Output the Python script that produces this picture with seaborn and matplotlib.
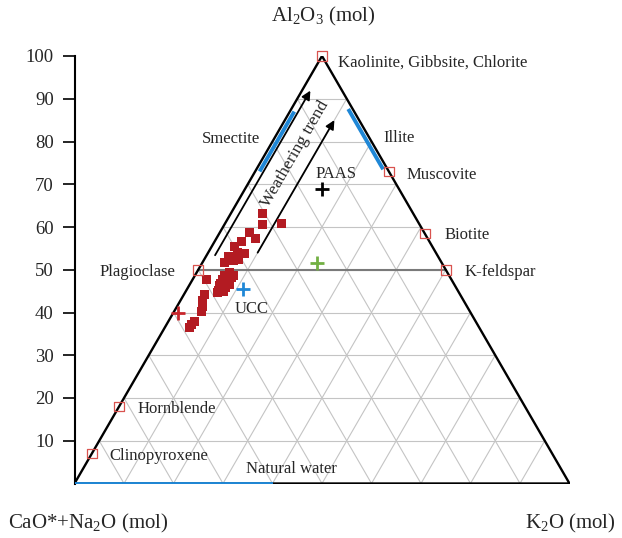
import numpy as np
import pandas as pd
import matplotlib
matplotlib.use("Agg")
import matplotlib.pyplot as plt
import seaborn as sns

# ---------------- data (ternary %, A = Al2O3, K = K2O, CN = rest) ----------------
sample_A = [63.1, 60.7, 60.9, 58.6, 57.3, 56.7, 55.5, 53.9, 54.0, 53.0, 52.5, 51.8, 52.1,
            47.8, 49.3, 48.6, 48.2, 47.8, 47.5, 46.6, 46.2, 45.8, 44.7, 45.0, 46.8, 48.7, 45.2,
            44.3, 42.7, 41.5, 40.3, 38.0, 37.2, 36.5]
sample_K = [6.4, 7.7, 11.3, 6.1, 8.0, 5.3, 4.6, 7.4, 6.0, 4.6, 6.8, 4.4, 6.0,
            2.7, 6.6, 6.0, 7.6, 6.1, 7.2, 8.0, 6.2, 7.7, 6.6, 7.6, 6.1, 7.8, 6.5,
            4.1, 4.6, 5.1, 5.5, 5.2, 5.1, 5.0]

mineral_names = ["Kaolinite, Gibbsite, Chlorite", "Muscovite", "Biotite", "K-feldspar",
                 "Plagioclase", "Hornblende", "Clinopyroxene"]
mineral_A = [100, 73, 58.5, 50, 50, 18, 7]
mineral_K = [0, 27, 41.5, 50, 0, 0, 0]

ref_names = ["PAAS", "UCC", "", ""]
ref_A = [68.9, 45.6, 51.5, 40.0]
ref_K = [15.5, 11.2, 23.2, 1.0]

smectite_A = [73, 87]      # along A-CN join
illite_A = [73.5, 87.6]    # along A-K join
water_K = [0, 40]          # along CN-K join

grid_vals = [10, 20, 30, 40, 50, 60, 70, 80, 90]
tick_vals = [10, 20, 30, 40, 50, 60, 70, 80, 90, 100]


def tern(A, K):
    A = np.asarray(A, float)
    K = np.asarray(K, float)
    return K + A / 2.0, A


# ---------------- style ----------------
sns.set_theme(style="white")
plt.rcParams["font.family"] = ["Liberation Serif", "DejaVu Serif"]
plt.rcParams["mathtext.fontset"] = "custom"
plt.rcParams["mathtext.rm"] = "Liberation Serif"
plt.rcParams["mathtext.default"] = "regular"

fig = plt.figure(figsize=(6.22, 5.38), dpi=100)
ax = fig.add_axes([74.5 / 622, (538 - 483.5) / 538, 495 / 622, 427.5 / 538])
ax.set_xlim(0, 100)
ax.set_ylim(0, 100)

GRID = "#c4c4c4"
BLUE = "#1f87d6"
RED = "#b31b22"
OPEN = "#d9534f"

# grid lines
for v in grid_vals:
    x, y = tern([v, v], [0, 100 - v])
    ax.plot(x, y, color=GRID, lw=0.8, zorder=1)
    x, y = tern([0, 100 - v], [v, v])
    ax.plot(x, y, color=GRID, lw=0.8, zorder=1)
    x, y = tern([0, 100 - v], [100 - v, 0])
    ax.plot(x, y, color=GRID, lw=0.8, zorder=1)

# plagioclase - K-feldspar tie line
x, y = tern([50, 50], [0, 50])
ax.plot(x, y, color="#7a7a7a", lw=1.5, zorder=2)

# triangle
x, y = tern([0, 100, 0, 0], [0, 0, 100, 0])
ax.plot(x, y, color="black", lw=1.7, zorder=3, solid_joinstyle="miter")

# blue mineral ranges
x, y = tern(smectite_A, [0.9, 0.9])
ax.plot(x, y, color=BLUE, lw=2.8, zorder=4, solid_capstyle="butt")
x, y = tern(illite_A, [100 - illite_A[0] - 0.9, 100 - illite_A[1] - 0.9])
ax.plot(x, y, color=BLUE, lw=2.8, zorder=4, solid_capstyle="butt")
x, y = tern([0, 0], water_K)
ax.plot(x, y, color=BLUE, lw=2.8, zorder=4, solid_capstyle="butt")

# weathering trend arrows
for (a0, a1, k) in [(53.4, 91.9, 1.7), (54.0, 85.0, 10.0)]:
    x, y = tern([a0, a1], [k, k])
    ax.annotate("", xy=(x[1], y[1]), xytext=(x[0], y[0]),
                arrowprops=dict(arrowstyle="-|>", color="black", lw=1.3,
                                mutation_scale=13, shrinkA=0, shrinkB=0),
                zorder=5)
ax.text(44.5, 77.1, "Weathering trend", rotation=60, rotation_mode="anchor",
        ha="center", va="center", fontsize=12.5, zorder=6)

# samples
sx, sy = tern(sample_A, sample_K)
df = pd.DataFrame({"x": sx, "y": sy})
sns.scatterplot(data=df, x="x", y="y", marker="s", s=42, color=RED,
                edgecolor="none", linewidth=0, ax=ax, zorder=7, legend=False)

# minerals (open squares)
mx, my = tern(mineral_A, mineral_K)
ax.scatter(mx, my, marker="s", s=48, facecolors="none", edgecolors=OPEN,
           linewidths=0.9, zorder=8, clip_on=False)
offsets = [(11.5, -3), (13, -1), (14.4, 0), (13.7, 0), (-16.5, 0), (13, 0), (12.6, 0)]
for name, xx, yy, off in zip(mineral_names, mx, my, offsets):
    ax.annotate(name, xy=(xx, yy), xytext=off, textcoords="offset points",
                ha="left" if off[0] > 0 else "right", va="center_baseline",
                fontsize=12, annotation_clip=False)

# reference compositions (+)
rx, ry = tern(ref_A, ref_K)
ref_colors = ["black", BLUE, "#72b043", "#c8262c"]
for xx, yy, c in zip(rx, ry, ref_colors):
    ax.scatter([xx], [yy], marker="+", s=90, color=c, linewidths=2.0, zorder=9)

ax.text(52.9, 72.9, "PAAS", ha="center", va="center_baseline", fontsize=12)
ax.text(35.8, 41.4, "UCC", ha="center", va="center_baseline", fontsize=12)
ax.text(43.9, 3.9, "Natural water", ha="center", va="center_baseline", fontsize=12)
ax.text(31.6, 81.0, "Smectite", ha="center", va="center_baseline", fontsize=12)
ax.text(65.6, 81.3, "Illite", ha="center", va="center_baseline", fontsize=12)

# left axis
for s in ["top", "right", "bottom"]:
    ax.spines[s].set_visible(False)
ax.spines["left"].set_color("black")
ax.spines["left"].set_linewidth(1.5)
ax.set_xticks([])
ax.set_yticks(tick_vals)
ax.set_yticklabels([str(t) for t in tick_vals], fontsize=13.5)
ax.tick_params(axis="y", direction="out", length=9, width=1.2, pad=6, left=True,
               color="black")
ax.set_xlabel("")
ax.set_ylabel("")

# axis titles
fig.text(323 / 622, 1 - 16 / 538, "Al$_2$O$_3$ (mol)", ha="center", va="center", fontsize=15)
fig.text(8 / 622, 1 - 523 / 538, "CaO*+Na$_2$O (mol)", ha="left", va="center", fontsize=15)
fig.text(616 / 622, 1 - 523 / 538, "K$_2$O (mol)", ha="right", va="center", fontsize=15)

fig.savefig("out.png", dpi=100, facecolor="white")
